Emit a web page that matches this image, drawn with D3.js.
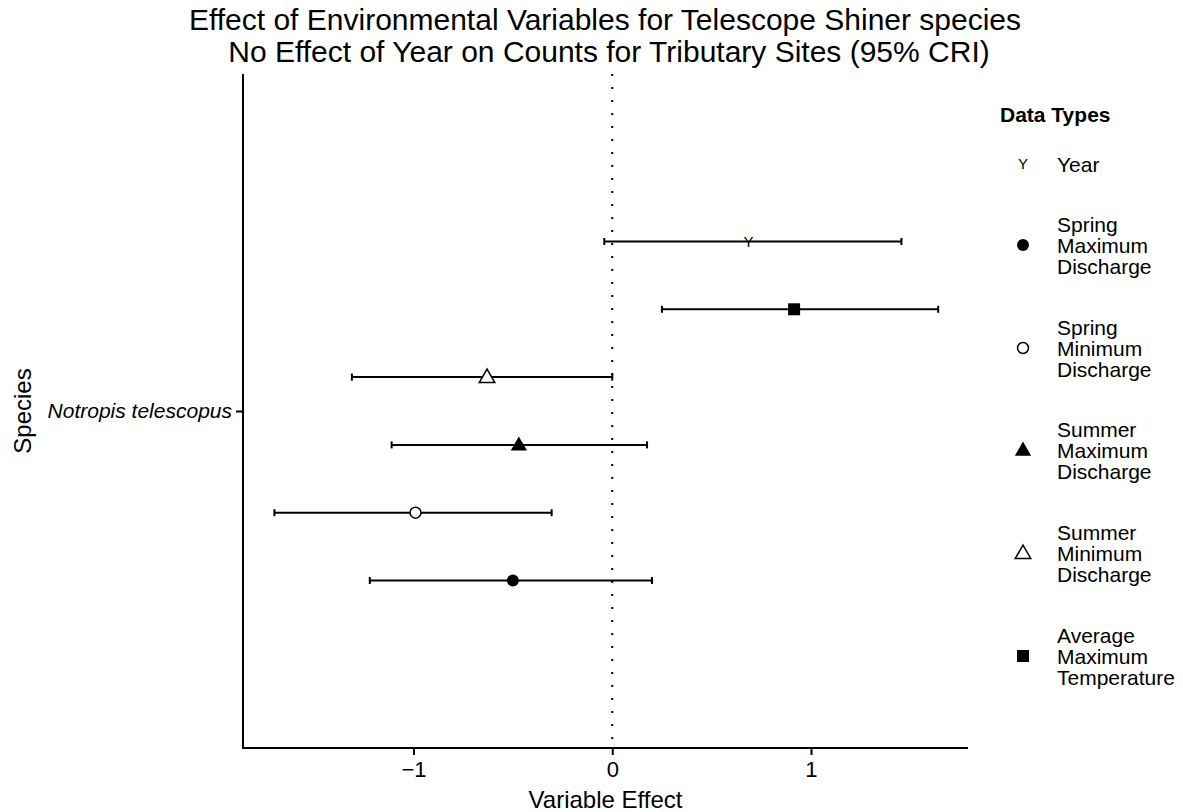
<!DOCTYPE html>
<html>
<head>
<meta charset="utf-8">
<script src="https://cdn.jsdelivr.net/npm/d3@7"></script>
<style>
  body { margin: 0; background: #fff; }
  text { font-family: "Liberation Sans", Arial, sans-serif; fill: #000; }
</style>
</head>
<body>
<div id="chart"></div>
<script>
// Data
const species = ["Notropis telescopus"];
const variables = ["Year", "Average Maximum Temperature", "Summer Minimum Discharge",
  "Summer Maximum Discharge", "Spring Minimum Discharge", "Spring Maximum Discharge"];
const estimates = [0.685, 0.915, -0.63, -0.47, -0.99, -0.50];
const lower = [-0.04, 0.25, -1.31, -1.11, -1.70, -1.22];
const upper = [1.455, 1.64, 0.0, 0.175, -0.305, 0.20];
const xTicks = [-1, 0, 1];
const legendOrder = ["Year", "Spring Maximum Discharge", "Spring Minimum Discharge",
  "Summer Maximum Discharge", "Summer Minimum Discharge", "Average Maximum Temperature"];
const legendLines = [["Year"], ["Spring", "Maximum", "Discharge"], ["Spring", "Minimum", "Discharge"],
  ["Summer", "Maximum", "Discharge"], ["Summer", "Minimum", "Discharge"], ["Average", "Maximum", "Temperature"]];

const width = 1183, height = 812;
const panel = { left: 243, right: 968, top: 74, bottom: 748 };

const svg = d3.select("#chart").append("svg")
  .attr("width", width).attr("height", height);

// Scales
const x = d3.scaleLinear().domain([-1.858, 1.79]).range([panel.left, panel.right]);
const y = d3.scalePoint().domain(species).range([panel.top, panel.bottom]).padding(0.5);
const dodge = d3.scalePoint().domain(variables).range([-169.5, 169.5]);

// Symbol per variable
function drawSymbol(g, v) {
  const sym = d3.symbol();
  if (v === "Year") {
    g.append("text").attr("text-anchor", "middle").attr("dy", "0.36em")
      .style("font-size", "15px").text("Y");
  } else if (v === "Spring Maximum Discharge") {
    g.append("circle").attr("r", 6).attr("fill", "#000");
  } else if (v === "Spring Minimum Discharge") {
    g.append("circle").attr("r", 5.5).attr("fill", "#fff").attr("stroke", "#000").attr("stroke-width", 1.5);
  } else if (v === "Summer Maximum Discharge") {
    g.append("path").attr("d", sym.type(d3.symbolTriangle).size(115)()).attr("transform", "translate(0,1)").attr("fill", "#000");
  } else if (v === "Summer Minimum Discharge") {
    g.append("path").attr("d", sym.type(d3.symbolTriangle).size(105)()).attr("transform", "translate(0,1)")
      .attr("fill", "#fff").attr("stroke", "#000").attr("stroke-width", 1.5);
  } else {
    g.append("rect").attr("x", -6).attr("y", -6).attr("width", 12).attr("height", 12).attr("fill", "#000");
  }
}

// Reference line at zero
svg.append("line")
  .attr("x1", x(0)).attr("x2", x(0))
  .attr("y1", panel.top).attr("y2", panel.bottom)
  .attr("stroke", "#000").attr("stroke-width", 2)
  .attr("stroke-dasharray", "2,11");

// Error bars and points
const rows = variables.map((v, i) => ({ v, est: estimates[i], lo: lower[i], hi: upper[i] }));
const rowG = svg.selectAll(".row").data(rows).enter().append("g")
  .attr("class", "row")
  .attr("transform", d => `translate(0,${y(species[0]) + dodge(d.v)})`);

rowG.append("line")
  .attr("x1", d => x(d.lo)).attr("x2", d => x(d.hi))
  .attr("stroke", "#000").attr("stroke-width", 2);
rowG.append("line")
  .attr("x1", d => x(d.lo)).attr("x2", d => x(d.lo))
  .attr("y1", -3.5).attr("y2", 3.5).attr("stroke", "#000").attr("stroke-width", 2);
rowG.append("line")
  .attr("x1", d => x(d.hi)).attr("x2", d => x(d.hi))
  .attr("y1", -3.5).attr("y2", 3.5).attr("stroke", "#000").attr("stroke-width", 2);
rowG.each(function (d) {
  const g = d3.select(this).append("g").attr("transform", `translate(${x(d.est)},0)`);
  drawSymbol(g, d.v);
});

// Axes (lines only on bottom/left, like the reference)
const xAxis = svg.append("g")
  .attr("transform", `translate(0,${panel.bottom})`)
  .call(d3.axisBottom(x).tickValues(xTicks).tickSize(7).tickPadding(6)
    .tickFormat(d => d < 0 ? "\u2212" + Math.abs(d) : d));
xAxis.select(".domain").remove();
xAxis.selectAll("line").attr("stroke-width", 2);
xAxis.selectAll("text").style("font-size", "22px").style("font-family", "Liberation Sans, Arial, sans-serif");
svg.append("line")
  .attr("x1", panel.left - 1).attr("x2", panel.right)
  .attr("y1", panel.bottom).attr("y2", panel.bottom)
  .attr("stroke", "#000").attr("stroke-width", 2);

const yAxis = svg.append("g")
  .attr("transform", `translate(${panel.left},0)`)
  .call(d3.axisLeft(y).tickSize(7).tickPadding(4));
yAxis.select(".domain").remove();
yAxis.selectAll("line").attr("stroke-width", 2);
yAxis.selectAll("text").style("font-size", "21px").style("font-style", "italic")
  .style("font-family", "Liberation Sans, Arial, sans-serif");
svg.append("line")
  .attr("x1", panel.left).attr("x2", panel.left)
  .attr("y1", panel.top).attr("y2", panel.bottom + 1)
  .attr("stroke", "#000").attr("stroke-width", 2);

// Axis titles
svg.append("text").attr("x", (panel.left + panel.right) / 2).attr("y", 808)
  .attr("text-anchor", "middle").style("font-size", "24px").text("Variable Effect");
svg.append("text").attr("transform", `translate(31,${y(species[0])}) rotate(-90)`)
  .attr("text-anchor", "middle").style("font-size", "24px").text("Species");

// Title
svg.append("text").attr("x", 605).attr("y", 30).attr("text-anchor", "middle")
  .style("font-size", "30px").text("Effect of Environmental Variables for Telescope Shiner species");
svg.append("text").attr("x", 609).attr("y", 62).attr("text-anchor", "middle")
  .style("font-size", "30px").text("No Effect of Year on Counts for Tributary Sites (95% CRI)");

// Legend
const legend = svg.append("g").attr("transform", "translate(1000,0)");
legend.append("text").attr("x", 0).attr("y", 122)
  .style("font-size", "21px").style("font-weight", "bold").text("Data Types");
const legendY = [164, 245, 348, 450, 553, 656];
legendOrder.forEach((v, i) => {
  const g = legend.append("g").attr("transform", `translate(0,${legendY[i]})`);
  drawSymbol(g.append("g").attr("transform", "translate(23,0)"), v);
  const lines = legendLines[i];
  const t = g.append("text").style("font-size", "21px");
  lines.forEach((s, j) => {
    t.append("tspan").attr("x", 57)
      .attr("y", (j - (lines.length - 1) / 2) * 21)
      .attr("dy", "0.36em").text(s);
  });
});
</script>
</body>
</html>
